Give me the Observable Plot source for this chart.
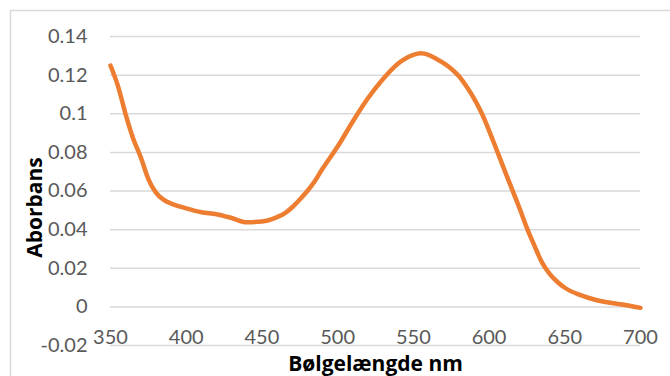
<!DOCTYPE html>
<html>
<head>
<meta charset="utf-8">
<script src="https://cdn.jsdelivr.net/npm/d3@7"></script>
<script src="https://cdn.jsdelivr.net/npm/@observablehq/plot@0.6"></script>
<style>
  html, body { margin: 0; padding: 0; background: #fff; overflow: hidden; }
</style>
</head>
<body>
<div id="chart"></div>
<script>
const wavelengths = [350, 355, 360, 365, 370, 375, 380, 385, 390, 400, 410, 420, 430, 440, 450, 460, 465, 470, 475, 480, 485, 490, 500, 510, 520, 530, 540, 550, 555, 560, 565, 570, 575, 580, 585, 590, 595, 600, 605, 610, 615, 620, 625, 630, 635, 640, 645, 650, 660, 670, 680, 690, 700];
const absorbance  = [0.125, 0.1142, 0.0997, 0.0871, 0.0775, 0.0662, 0.0592, 0.0555, 0.0535, 0.051, 0.049, 0.048, 0.046, 0.0438, 0.0442, 0.0465, 0.0484, 0.0516, 0.0556, 0.0600, 0.0652, 0.0715, 0.083, 0.096, 0.108, 0.118, 0.126, 0.1305, 0.1313, 0.1305, 0.1285, 0.1262, 0.1233, 0.1195, 0.1142, 0.1080, 0.1005, 0.0913, 0.0813, 0.0712, 0.0612, 0.0513, 0.0408, 0.0316, 0.0229, 0.0171, 0.0130, 0.0099, 0.0062, 0.0037, 0.0021, 0.001, -0.0005];
const xTicks = [350, 400, 450, 500, 550, 600, 650, 700];
const yTicks = [-0.02, 0, 0.02, 0.04, 0.06, 0.08, 0.1, 0.12, 0.14];
const xTitle = "Bølgelængde nm";
const yTitle = "Aborbans";

const data = wavelengths.map((w, i) => ({w, a: absorbance[i]}));
const fmtY = d => d === 0 ? "0" : String(+d.toFixed(2));
const titleFont = "'Open Sans', Lato, sans-serif";

const chart = Plot.plot({
  width: 670,
  height: 376,
  marginLeft: 110,
  marginRight: 30,
  marginTop: 36,
  marginBottom: 31,
  style: {fontFamily: "Lato, 'Open Sans', sans-serif", background: "#fff", overflow: "visible"},
  x: {domain: [350, 700]},
  y: {domain: [-0.02, 0.14]},
  marks: [
    Plot.frame({stroke: "#d9d9d9", strokeWidth: 1.5, insetLeft: -100, insetTop: -26, insetRight: -40, insetBottom: -41}),
    Plot.gridY(yTicks, {stroke: "#d9d9d9", strokeOpacity: 1, strokeWidth: 1.5}),
    Plot.axisY(yTicks, {tickSize: 0, tickPadding: 23, tickFormat: fmtY, fontSize: 20, fill: "#595959", label: null}),
    Plot.axisX(xTicks, {anchor: "bottom", tickSize: 0, tickPadding: 0, dy: -16, tickFormat: d => String(d), fontSize: 20, fill: "#595959", label: null}),
    Plot.line(data, {x: "w", y: "a", stroke: "#ED7D31", strokeWidth: 4.5, curve: "monotone-x", strokeLinecap: "round", strokeLinejoin: "round"}),
    Plot.text([xTitle], {frameAnchor: "bottom", textAnchor: "middle", lineAnchor: "top", dy: 10.1, fontSize: 21, fontWeight: "bold", fontFamily: titleFont, fill: "#000"}),
    Plot.text([yTitle], {frameAnchor: "left", textAnchor: "middle", rotate: -90, lineAnchor: "middle", dx: -75.5, dy: 16.5, fontSize: 21, fontWeight: "bold", fontFamily: titleFont, fill: "#000"})
  ]
});
document.getElementById("chart").appendChild(chart);
</script>
</body>
</html>
